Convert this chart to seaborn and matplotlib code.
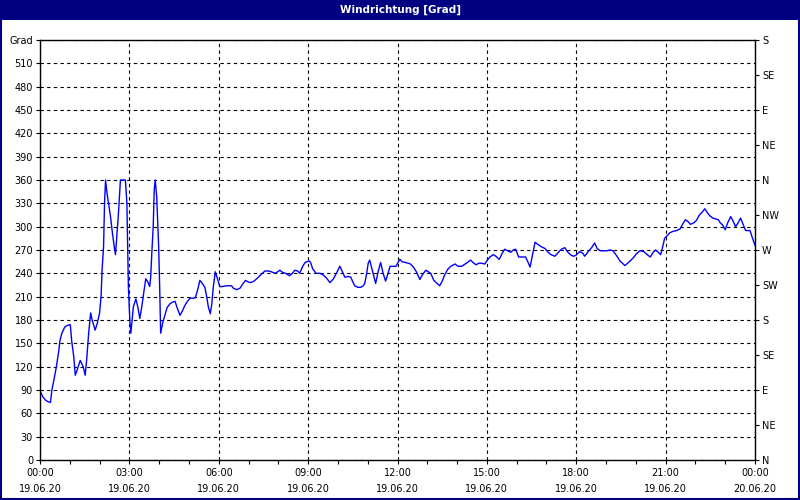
import matplotlib
matplotlib.use("Agg")
import matplotlib.pyplot as plt
from matplotlib.patches import Rectangle
from matplotlib.ticker import MultipleLocator
import seaborn as sns
import pandas as pd

# minutes since 00:00 on 19.06.20, wind direction in degrees
minutes = [0, 6, 11, 16, 21, 24, 28, 33, 38, 40, 44, 50, 55, 61, 64, 68, 71, 75, 81, 87,
           91, 94, 98, 102, 105, 111, 115, 120, 123, 125, 128, 130, 132, 135, 138, 142, 146, 150, 152, 155,
           158, 160, 162, 172, 175, 177, 178, 181, 183, 188, 193, 197, 201, 205, 208, 213, 217, 221, 223, 225,
           228, 230, 232, 235, 239, 241, 243, 247, 252, 256, 262, 267, 272, 276, 282, 287, 292, 297, 302, 309,
           313, 318, 322, 327, 332, 336, 339, 343, 346, 349, 353, 357, 362, 367, 376, 386, 389, 396, 403, 408,
           414, 419, 424, 431, 438, 446, 453, 460, 466, 473, 479, 483, 489, 495, 502, 507, 513, 519, 523, 529,
           534, 542, 545, 549, 556, 564, 570, 577, 584, 591, 596, 604, 609, 614, 621, 626, 630, 634, 640, 646,
           651, 654, 658, 661, 664, 670, 676, 681, 686, 691, 696, 700, 705, 711, 717, 721, 725, 729, 735, 742,
           746, 752, 758, 765, 770, 777, 782, 787, 793, 800, 805, 810, 815, 821, 827, 836, 842, 849, 856, 861,
           867, 872, 878, 884, 889, 896, 901, 906, 913, 918, 925, 931, 936, 942, 948, 953, 958, 964, 973, 978,
           983, 987, 991, 997, 1003, 1010, 1017, 1022, 1029, 1037, 1044, 1050, 1057, 1062, 1068, 1074, 1079, 1087, 1093, 1097,
           1104, 1111, 1117, 1122, 1128, 1141, 1148, 1154, 1161, 1168, 1178, 1187, 1195, 1201, 1208, 1216, 1223, 1229, 1235, 1240,
           1245, 1250, 1254, 1258, 1264, 1268, 1275, 1282, 1289, 1294, 1300, 1306, 1310, 1317, 1322, 1328, 1334, 1339, 1344, 1349,
           1355, 1360, 1366, 1370, 1375, 1380, 1385, 1391, 1396, 1401, 1406, 1411, 1416, 1421, 1430, 1435, 1440]
direction = [89, 81, 77, 75, 74, 90, 103, 120, 141, 153, 163, 171, 173, 174, 152, 133, 109, 116, 128, 120,
             109, 129, 163, 189, 180, 167, 175, 189, 210, 244, 274, 330, 360, 343, 330, 313, 291, 272, 264, 291,
             317, 339, 360, 360, 330, 259, 223, 178, 163, 197, 207, 197, 182, 197, 211, 233, 229, 223, 236, 264,
             300, 347, 360, 339, 274, 223, 163, 176, 187, 196, 201, 203, 204, 196, 186, 192, 199, 204, 208, 208,
             209, 220, 231, 227, 222, 209, 197, 188, 201, 222, 242, 234, 223, 223, 224, 224, 221, 219, 221, 226,
             231, 229, 228, 230, 234, 239, 243, 243, 242, 240, 242, 244, 241, 240, 237, 239, 244, 243, 240, 249,
             254, 256, 254, 246, 240, 240, 238, 234, 228, 233, 239, 249, 242, 235, 236, 235, 229, 224, 222, 222,
             224, 227, 240, 253, 257, 242, 227, 242, 254, 240, 230, 238, 249, 249, 249, 254, 258, 255, 254, 253,
             252, 248, 242, 232, 238, 244, 242, 240, 231, 227, 224, 230, 238, 245, 249, 252, 249, 249, 252, 254,
             257, 254, 251, 253, 253, 252, 257, 261, 264, 262, 258, 266, 271, 269, 267, 270, 271, 261, 261, 261,
             254, 248, 261, 280, 277, 274, 272, 268, 264, 262, 267, 271, 273, 268, 264, 262, 263, 268, 266, 262,
             268, 273, 279, 272, 269, 269, 270, 269, 263, 256, 250, 255, 260, 265, 269, 268, 264, 261, 267, 270,
             267, 264, 274, 285, 289, 292, 294, 295, 297, 303, 309, 306, 303, 305, 308, 315, 319, 323, 318, 314,
             311, 310, 309, 305, 302, 296, 305, 313, 307, 300, 305, 311, 303, 295, 295, 285, 276]

hour_labels = ["00:00\n19.06.20", "03:00\n19.06.20", "06:00\n19.06.20", "09:00\n19.06.20",
               "12:00\n19.06.20", "15:00\n19.06.20", "18:00\n19.06.20", "21:00\n19.06.20",
               "00:00\n20.06.20"]
left_labels = [str(v) for v in range(0, 540, 30)] + ["Grad"]
compass_labels = ["N", "NE", "E", "SE", "S", "SW", "W", "NW", "N", "NE", "E", "SE", "S"]

df = pd.DataFrame({"hour": [m / 60 for m in minutes], "deg": direction})

sns.set_style("white")
plt.rcParams["font.family"] = ["DejaVu Sans"]

fig = plt.figure(figsize=(8, 5), dpi=100)
fig.patch.set_facecolor("white")
ax = fig.add_axes([0.05, 0.08, 0.89375, 0.84])

sns.lineplot(data=df, x="hour", y="deg", ax=ax, color="#0000FF", linewidth=1)

ax.set_xlim(0, 24)
ax.set_ylim(0, 540)
ax.set_xticks(range(0, 25, 3))
ax.set_xticklabels(hour_labels, fontsize=7, linespacing=1.7)
ax.xaxis.set_minor_locator(MultipleLocator(1))
ax.set_yticks(range(0, 541, 30))
ax.set_yticklabels(left_labels, fontsize=7)
ax.tick_params(axis="both", which="both", direction="out", length=3, width=0.8,
               color="black", labelcolor="black", pad=2, bottom=True, left=True)
ax.tick_params(axis="x", which="both", pad=3)
ax.set_xlabel("")
ax.set_ylabel("")
ax.grid(True, color="black", linestyle=(0, (3, 3)), linewidth=0.8)
for s in ax.spines.values():
    s.set_color("black")
    s.set_linewidth(1)

ax2 = ax.twinx()
ax2.set_ylim(0, 540)
ax2.set_yticks(range(0, 541, 45))
ax2.set_yticklabels(compass_labels, fontsize=7)
ax2.tick_params(axis="y", direction="out", length=3, width=0.8, color="black",
                labelcolor="black", pad=2, right=True)
ax2.grid(False)
for s in ax2.spines.values():
    s.set_visible(False)

# title bar and outer frame
fig.patches.append(Rectangle((0, 0.96), 1, 0.04, transform=fig.transFigure,
                             facecolor="#000080", edgecolor="none", zorder=-1))
fig.patches.append(Rectangle((0.001, 0.002), 0.998, 0.997, transform=fig.transFigure,
                             facecolor="none", edgecolor="#000080", linewidth=1.5))
fig.text(0.5, 0.98, "Windrichtung [Grad]", color="white", fontsize=7.5,
         fontweight="bold", ha="center", va="center")

fig.savefig("out.png", dpi=100)
